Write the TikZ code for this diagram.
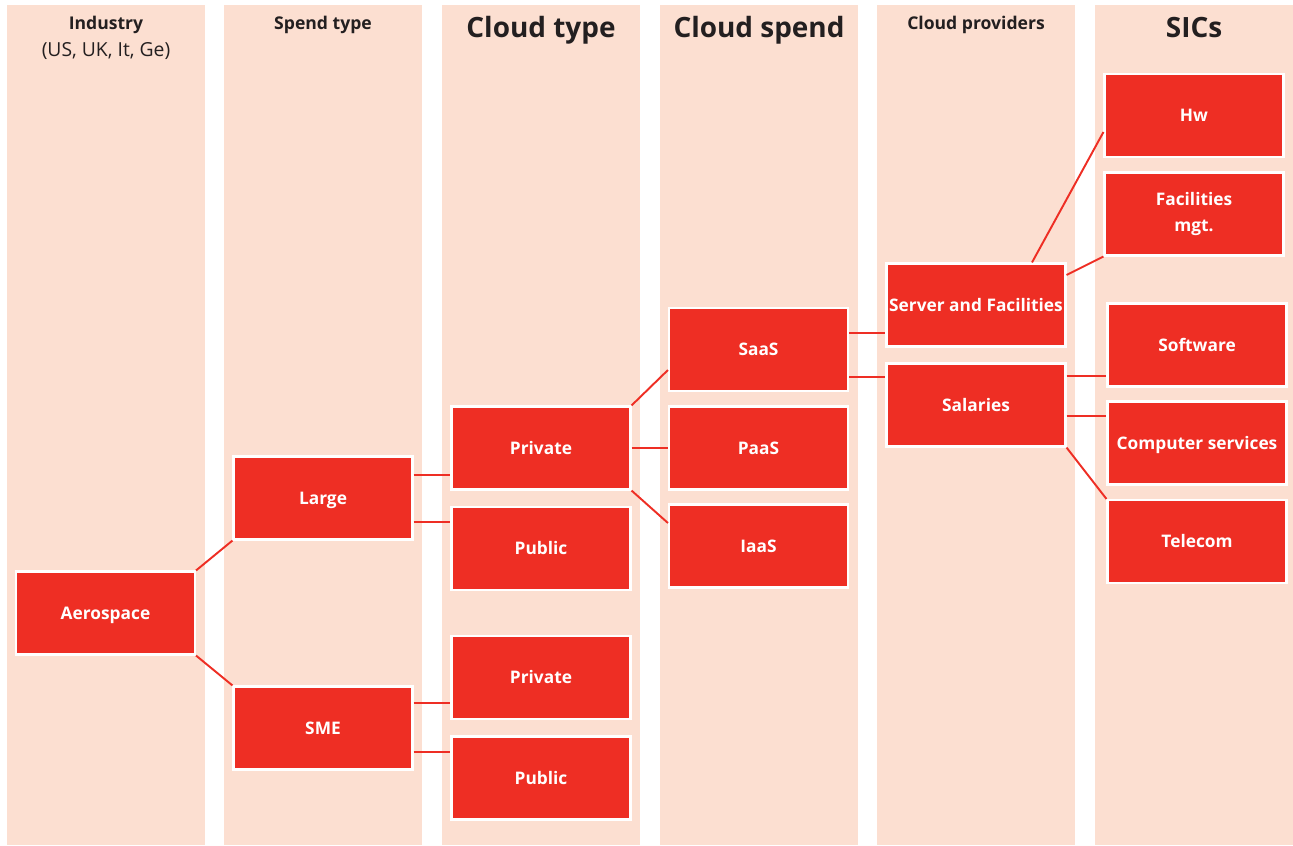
\documentclass[tikz,border=0pt]{standalone}
\usepackage{fontspec}
\setmainfont{Open Sans}
\usepackage{xcolor}
\definecolor{peach}{RGB}{252,223,209}
\definecolor{boxRed}{RGB}{238,46,36}
\definecolor{darkText}{RGB}{35,31,32}

\begin{document}
\begin{tikzpicture}[x=0.02cm, y=-0.02cm,
  box/.style={rectangle, fill=boxRed, draw=white, line width=1.2pt, minimum width=3.58cm, minimum height=1.66cm, inner sep=0pt, text=white, font=\bfseries\fontsize{9.85}{14.7}\selectfont, align=center, text height=7pt, text depth=0pt},
  link/.style={draw=boxRed, line width=1.1pt},
  head/.style={text=darkText, font=\bfseries\fontsize{10}{13}\selectfont},
  bighead/.style={text=darkText, font=\bfseries\fontsize{15.9}{19}\selectfont}]
 \useasboundingbox (0,0) rectangle (1293,845);
 % columns
 \foreach \x in {7,224,442,660,877,1095}
   \fill[peach] (\x,5) rectangle ++(198,840);
 % headings
 \node[head] (hInd) at (106,24.5) {Industry};
 \node[text=darkText, font=\fontsize{11}{13}\selectfont] (hReg) at (106,51) {(US, UK, It, Ge)};
 \node[head] (hSpend) at (323,24.5) {Spend type};
 \node[bighead] (hType) at (541,30) {Cloud type};
 \node[bighead] (hCSpend) at (759,30) {Cloud spend};
 \node[head] (hProv) at (976,24.5) {Cloud providers};
 \node[bighead] (hSIC) at (1194,28) {SICs};
 % boxes
 \node[box] (Aero) at (105.5,613) {Aerospace};
 \node[box] (Large) at (323,498) {Large};
 \node[box] (SME) at (323,728) {SME};
 \node[box] (PrivA) at (541,448) {Private};
 \node[box] (PubA) at (541,548.5) {Public};
 \node[box] (PrivB) at (541,677.5) {Private};
 \node[box] (PubB) at (541,778) {Public};
 \node[box] (SaaS) at (758.5,349.5) {SaaS};
 \node[box] (PaaS) at (758.5,448) {PaaS};
 \node[box] (IaaS) at (758.5,546) {IaaS};
 \node[box] (Server) at (976,305) {Server and Facilities};
 \node[box] (Salaries) at (976,405) {Salaries};
 \node[box] (Hw) at (1194,115.5) {Hw};
 \node[box, text height=, text depth=] (Facil) at (1194,214) {Facilities\\mgt.};
 \node[box] (Soft) at (1197,345) {Software};
 \node[box] (Comp) at (1197,443) {Computer services};
 \node[box] (Tele) at (1197,541.5) {Telecom};
 % connectors
 \draw[link] (Aero.north east) -- (Large.south west);
 \draw[link] (Aero.south east) -- (SME.north west);
 \foreach \a/\b/\s in {Large/PrivA/0.46, Large/PubA/-0.48, SME/PrivB/0.5, SME/PubB/-0.48}
   \draw[link] ([yshift=\s cm]\a.east) -- ([yshift=\s cm]\a.east -| \b.west);
 \draw[link] (PrivA.north east) -- ([yshift=-0.41cm]SaaS.west);
 \draw[link] (PrivA.east) -- (PaaS.west);
 \draw[link] (PrivA.south east) -- ([yshift=0.46cm]IaaS.west);
 \foreach \b/\s in {Server/0.33, Salaries/-0.55}
   \draw[link] ([yshift=\s cm]SaaS.east) -- ([yshift=\s cm]SaaS.east -| \b.west);
 \draw[link] ([xshift=1.12cm]Server.north) -- ([yshift=-0.33cm]Hw.west);
 \draw[link] ([yshift=0.6cm]Server.east) -- (Facil.south west);
 \foreach \b/\s in {Soft/0.58, Comp/-0.22}
   \draw[link] ([yshift=\s cm]Salaries.east) -- ([yshift=\s cm]Salaries.east -| \b.west);
 \draw[link] (Salaries.south east) -- (Tele.north west);
\end{tikzpicture}
\end{document}
